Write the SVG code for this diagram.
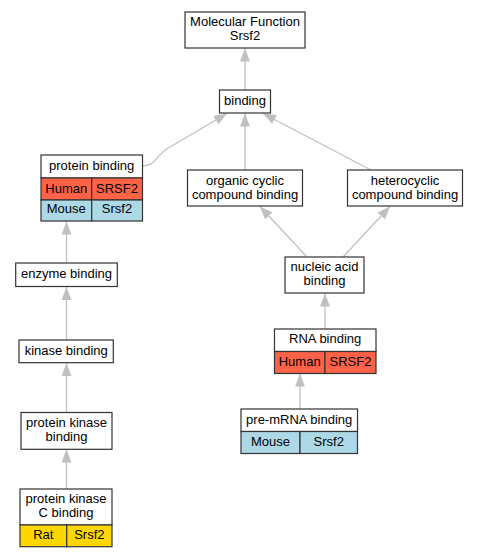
<svg xmlns="http://www.w3.org/2000/svg" width="479" height="557" viewBox="0 0 479 557">
<style>
text{font-family:"Liberation Sans",Arial,sans-serif;font-size:13px;text-anchor:middle;fill:#000}
.box{fill:#fff;stroke:#333;stroke-width:1.2}
.hu{fill:#ff6347;stroke:#333;stroke-width:1.2}
.mo{fill:#add8e6;stroke:#333;stroke-width:1.2}
.ra{fill:#ffd700;stroke:#333;stroke-width:1.2}
.e{fill:none;stroke:#c0c0c0;stroke-width:1.3;marker-end:url(#ah)}
</style>
<defs>
<marker id="ah" markerUnits="userSpaceOnUse" markerWidth="14" markerHeight="10" refX="13" refY="5" orient="auto">
<path d="M0,0 L13,5 L0,10 z" fill="#c0c0c0"/>
</marker>
</defs>
<rect width="479" height="557" fill="#fff"/>
<g id="edges">
<path class="e" d="M245,90 L245,48.5"/>
<path class="e" d="M143,166 C157,165 155,155 170,147 L227,113.5"/>
<path class="e" d="M245,170 L245,113.5"/>
<path class="e" d="M371,170 L263,113.5"/>
<path class="e" d="M307,257 L260,206.5"/>
<path class="e" d="M343,257 L390,206.5"/>
<path class="e" d="M325,329 L325,293.5"/>
<path class="e" d="M300,409 L300,373.5"/>
<path class="e" d="M66.5,263 L66.5,221.5"/>
<path class="e" d="M66.5,340 L66.5,287"/>
<path class="e" d="M66.5,412.5 L66.5,363"/>
<path class="e" d="M66.5,489 L66.5,449.5"/>
</g>
<g id="mf">
<rect class="box" x="185" y="12" width="120" height="36"/>
<text x="245" y="26">Molecular Function</text>
<text x="245" y="40">Srsf2</text>
</g>
<g id="binding">
<rect class="box" x="219.5" y="90" width="51" height="23"/>
<text x="245" y="104.5">binding</text>
</g>
<g id="protein-binding">
<rect class="box" x="41" y="155" width="101.5" height="23"/>
<text x="91.7" y="170">protein binding</text>
<rect class="hu" x="41" y="178" width="50.7" height="22"/>
<rect class="hu" x="91.7" y="178" width="50.8" height="22"/>
<text x="66.3" y="192.5">Human</text>
<text x="117" y="192.5">SRSF2</text>
<rect class="mo" x="41" y="200" width="50.7" height="21"/>
<rect class="mo" x="91.7" y="200" width="50.8" height="21"/>
<text x="66.3" y="213">Mouse</text>
<text x="117" y="213">Srsf2</text>
</g>
<g id="organic">
<rect class="box" x="187.5" y="170" width="115" height="36"/>
<text x="245" y="184.5">organic cyclic</text>
<text x="245" y="198.5">compound binding</text>
</g>
<g id="heterocyclic">
<rect class="box" x="347.5" y="170" width="115" height="36"/>
<text x="405" y="184.5">heterocyclic</text>
<text x="405" y="198.5">compound binding</text>
</g>
<g id="nucleic">
<rect class="box" x="285" y="257" width="79" height="36"/>
<text x="324.5" y="271">nucleic acid</text>
<text x="324.5" y="285">binding</text>
</g>
<g id="rna">
<rect class="box" x="274.5" y="329" width="101.5" height="22.5"/>
<text x="325.2" y="343">RNA binding</text>
<rect class="hu" x="274.5" y="351.5" width="50.5" height="22"/>
<rect class="hu" x="325" y="351.5" width="51" height="22"/>
<text x="299.7" y="365.5">Human</text>
<text x="350.5" y="365.5">SRSF2</text>
</g>
<g id="premrna">
<rect class="box" x="241" y="409" width="116.5" height="22.5"/>
<text x="299.2" y="423.5">pre-mRNA binding</text>
<rect class="mo" x="241" y="431.5" width="59" height="22"/>
<rect class="mo" x="300" y="431.5" width="57.5" height="22"/>
<text x="270.5" y="445.5">Mouse</text>
<text x="328.7" y="445.5">Srsf2</text>
</g>
<g id="enzyme">
<rect class="box" x="15.7" y="263" width="101.6" height="23.5"/>
<text x="66.5" y="278">enzyme binding</text>
</g>
<g id="kinase">
<rect class="box" x="19" y="340" width="94.3" height="22.7"/>
<text x="66.2" y="354.5">kinase binding</text>
</g>
<g id="pkb">
<rect class="box" x="21" y="412.5" width="91" height="36.8"/>
<text x="66.5" y="427">protein kinase</text>
<text x="66.5" y="441">binding</text>
</g>
<g id="pkc">
<rect class="box" x="20" y="489" width="92" height="36"/>
<text x="66" y="503">protein kinase</text>
<text x="66" y="517">C binding</text>
<rect class="ra" x="20" y="525" width="46.7" height="21.7"/>
<rect class="ra" x="66.7" y="525" width="45.3" height="21.7"/>
<text x="43.3" y="539">Rat</text>
<text x="89.3" y="539">Srsf2</text>
</g>
</svg>
